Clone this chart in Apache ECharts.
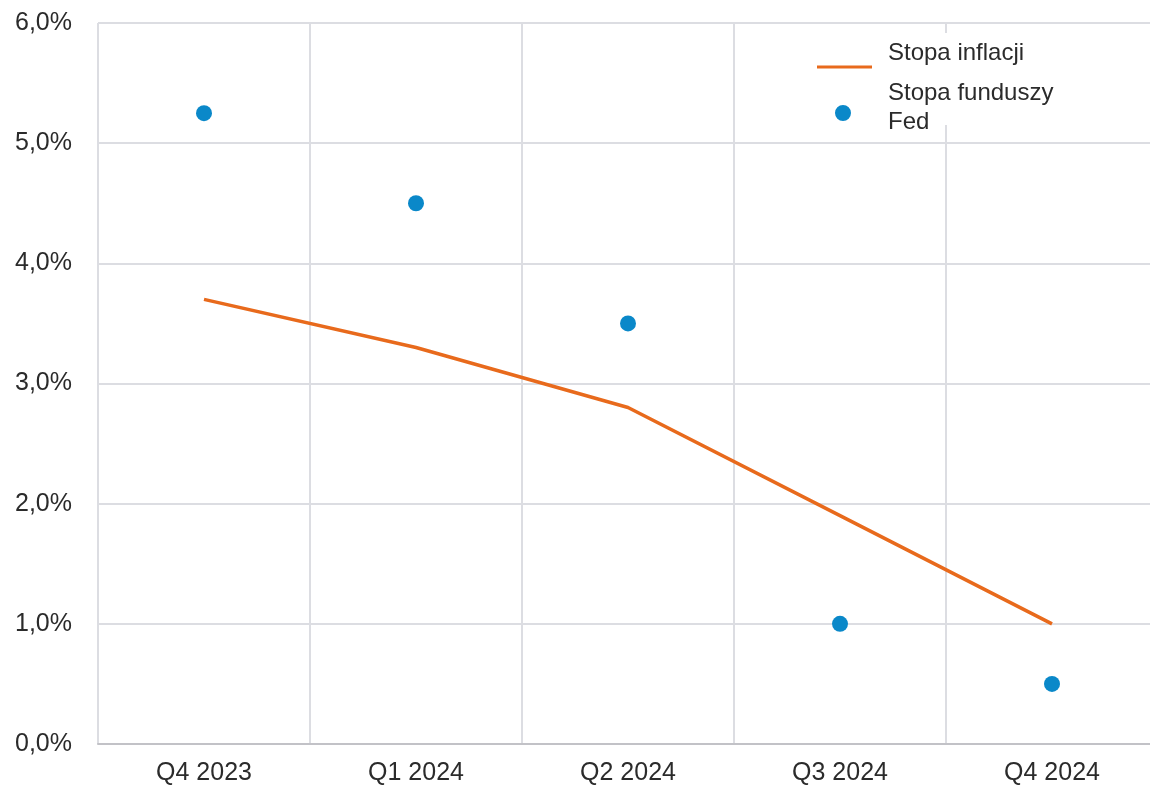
<!DOCTYPE html>
<html>
<head>
<meta charset="utf-8">
<script src="https://cdn.jsdelivr.net/npm/echarts@6/dist/echarts.min.js"></script>
<style>
  html, body { margin: 0; padding: 0; background: #fff; }
  #chart { width: 1150px; height: 788px; }
</style>
</head>
<body>
<div id="chart"></div>
<script>
// Quarters on the x axis
const quarters = ['Q4 2023', 'Q1 2024', 'Q2 2024', 'Q3 2024', 'Q4 2024'];
// Inflation rate, percent
const inflationRate = [3.7, 3.3, 2.8, 1.9, 1.0];
// Fed funds rate, percent
const fedFundsRate = [5.25, 4.5, 3.5, 1.0, 0.5];
// Y axis range and step, percent
const yMin = 0, yMax = 6, yStep = 1;

const seriesNames = ['Stopa inflacji', 'Stopa funduszy Fed'];
const FONT = 'Liberation Sans, Arial, sans-serif';
const TEXT = '#2b2b2b';
const ORANGE = '#e86a1c';
const BLUE = '#0a88c9';

// Legend icons: the key mark sits a little below the text's centre line,
// so each icon is a path whose box is padded with zero-size anchors.
const lineKey = 'path://M0 0L0 0.01Z M1 32.5H56V35.5H1Z M67 40L67 39.99Z';
const dotKey = 'path://M0 0L0 0.01Z M19 20.5A8 8 0 1 0 35 20.5A8 8 0 1 0 19 20.5Z M67 30L67 29.99Z';

const chart = echarts.init(document.getElementById('chart'), null, { renderer: 'canvas' });

chart.setOption({
  animation: false,
  backgroundColor: '#ffffff',
  // the last category band runs a little past the right edge of the canvas
  grid: { left: 98, top: 23, width: 1060, height: 721, containLabel: false, outerBoundsMode: 'none' },
  legend: [
    {
      data: [{ name: seriesNames[0], icon: lineKey }],
      left: 816, top: 33,
      padding: [0, 0, 52, 0],
      itemWidth: 67, itemHeight: 40,
      backgroundColor: '#ffffff',
      textStyle: { fontFamily: FONT, fontSize: 24, color: TEXT, lineHeight: 29 },
      selectedMode: false,
      z: 4
    },
    {
      data: [{ name: seriesNames[1], icon: dotKey }],
      left: 816, top: 78.5,
      padding: 0,
      itemWidth: 67, itemHeight: 30,
      formatter: () => 'Stopa funduszy\nFed',
      textStyle: { fontFamily: FONT, fontSize: 24, color: TEXT, lineHeight: 29 },
      selectedMode: false,
      z: 5
    }
  ],
  xAxis: {
    type: 'category',
    data: quarters,
    boundaryGap: true,
    axisLine: { show: true, lineStyle: { color: '#c2c2c7', width: 2 } },
    axisTick: { show: false },
    axisLabel: { fontFamily: FONT, fontSize: 25, color: TEXT, margin: 17 },
    splitLine: { show: true, lineStyle: { color: '#dcdde2', width: 2 } }
  },
  yAxis: {
    type: 'value',
    min: yMin, max: yMax, interval: yStep,
    axisLine: { show: false },
    axisTick: { show: false },
    axisLabel: {
      fontFamily: FONT, fontSize: 25, color: TEXT, margin: 26,
      formatter: v => v.toFixed(1).replace('.', ',') + '%'
    },
    splitLine: { show: true, lineStyle: { color: '#dcdde2', width: 2 } }
  },
  series: [
    {
      name: seriesNames[0],
      type: 'line',
      data: inflationRate,
      symbol: 'none',
      lineStyle: { color: ORANGE, width: 3.5 },
      itemStyle: { color: ORANGE },
      z: 3
    },
    {
      name: seriesNames[1],
      type: 'scatter',
      data: fedFundsRate,
      symbol: 'circle',
      symbolSize: 16,
      itemStyle: { color: BLUE, opacity: 1 },
      z: 4
    }
  ]
});
</script>
</body>
</html>
